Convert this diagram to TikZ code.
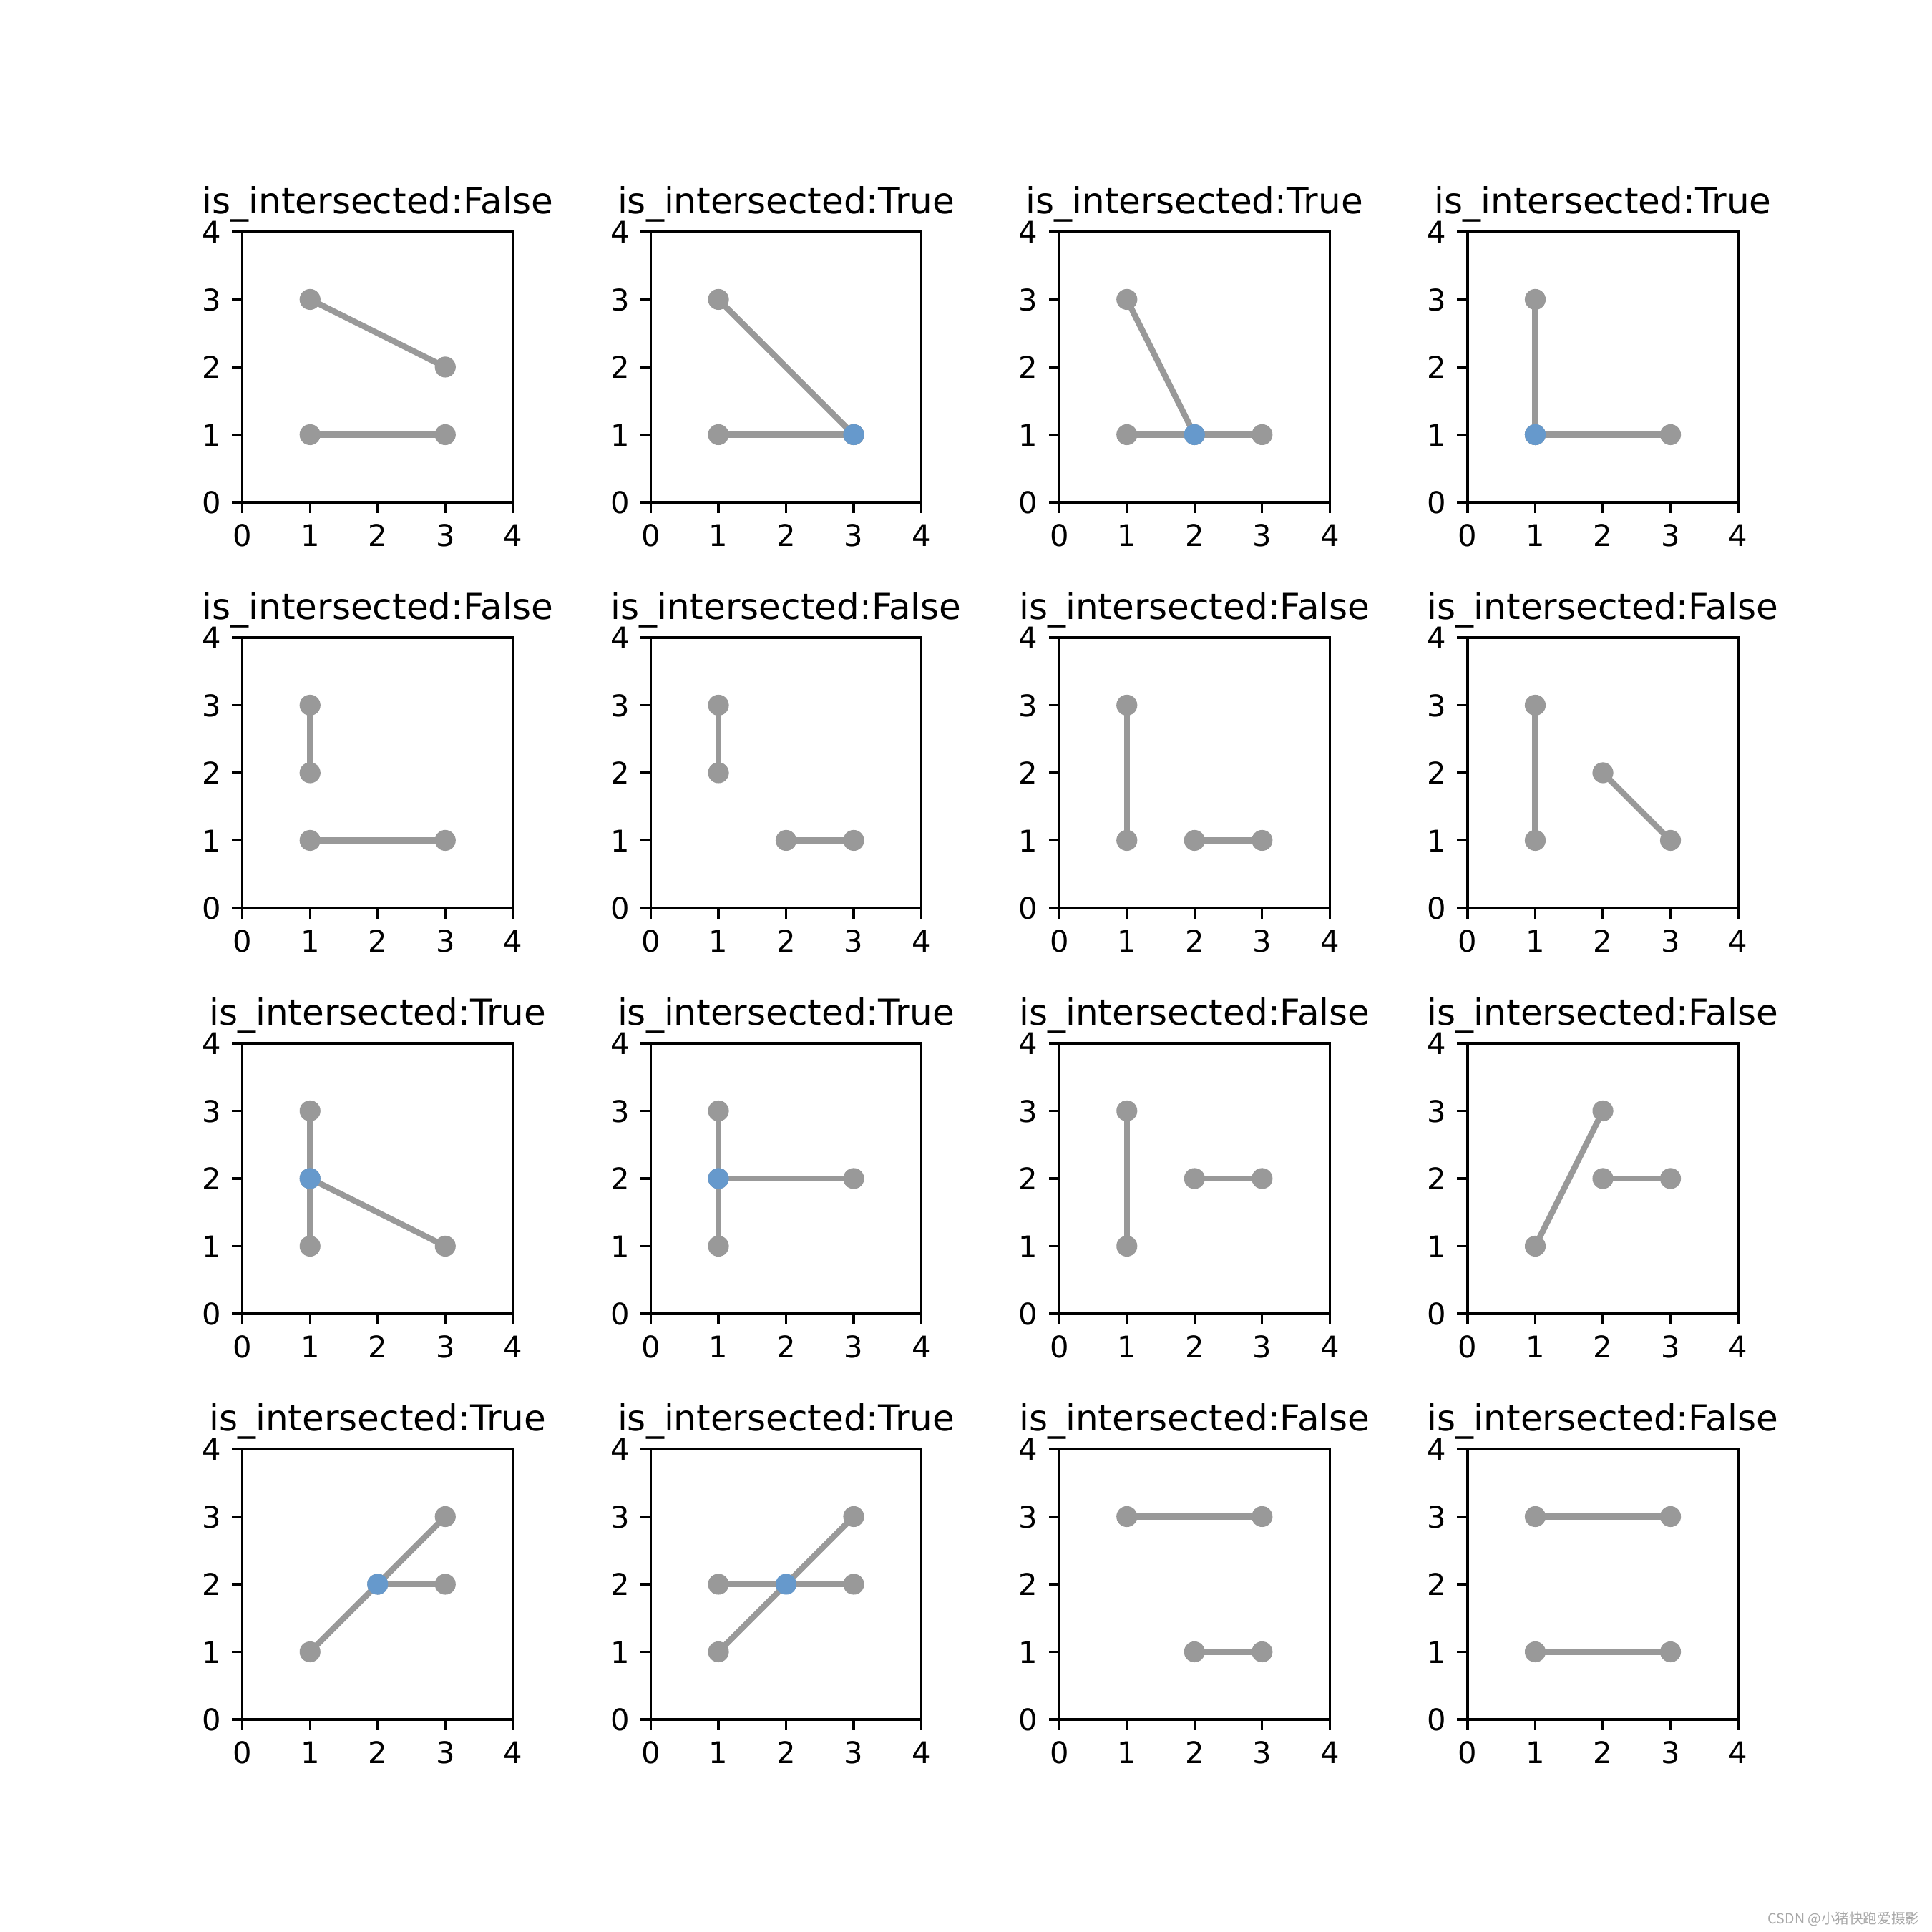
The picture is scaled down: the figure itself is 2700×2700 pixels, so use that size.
\documentclass[tikz,border=0pt]{standalone}
\usepackage{fontspec}
\setmainfont{DejaVu Sans}
\newfontfamily\cjkfont{Noto Sans CJK SC}
\definecolor{segcol}{HTML}{999999}
\definecolor{hitcol}{HTML}{6699CC}
\definecolor{wmcol}{HTML}{A8A8A8}
\tikzset{
  seg/.style={line width=2bp, draw=segcol},
  dot/.style={fill=segcol},
  hit/.style={fill=hitcol},
  spine/.style={line width=0.8bp, draw=black, line join=miter},
  tickmark/.style={line width=0.8bp, draw=black},
  xlab/.style={font=\fontsize{10bp}{12bp}\selectfont, inner sep=0pt, anchor=north, text height=0.76em, text depth=0pt},
  ylab/.style={font=\fontsize{10bp}{12bp}\selectfont, inner sep=0pt, anchor=east, text height=0.76em, text depth=0pt},
  ttl/.style={font=\fontsize{12bp}{14bp}\selectfont, inner sep=0pt, anchor=base},
  wm/.style={font=\cjkfont\fontsize{4.7bp}{5.5bp}\selectfont, text=wmcol, inner sep=0pt},
}
\newcommand\hitpt[1]{\fill[hit] (#1) circle[radius=3.5bp];}
\newcommand\panel[5]{%
  \begin{scope}[shift={(338.75+570.75*#1,1998-567*#2)}]
  \begin{scope}[x=22.68bp,y=22.68bp]
    \foreach \xa/\ya/\xb/\yb in {#4} {\draw[seg] (\xa,\ya) -- (\xb,\yb);}
    \foreach \xa/\ya/\xb/\yb in {#4} {\fill[dot] (\xa,\ya) circle[radius=3.5bp]; \fill[dot] (\xb,\yb) circle[radius=3.5bp];}
    #5
    \draw[spine] (0,0) rectangle (4,4);
    \foreach \k in {0,...,4} {
      \draw[tickmark] (\k,0) -- ++(0bp,-3.5bp);
      \node[xlab] at ([yshift=-7bp]\k,0) {\k};
      \draw[tickmark] (0,\k) -- ++(-3.5bp,0bp);
      \node[ylab] at ([xshift=-7bp]0,\k) {\k};
    }
    \node[ttl] at ([yshift=6bp]2,4) {#3};
  \end{scope}
  \end{scope}}
\begin{document}
\begin{tikzpicture}[x=0.24bp,y=0.24bp]
\fill[white] (0,0) rectangle (2700,2700);
\useasboundingbox (0,0) rectangle (2700,2700);
% row 1
\panel{0}{0}{is\_intersected:False}{1/3/3/2, 1/1/3/1}{}
\panel{1}{0}{is\_intersected:True}{1/3/3/1, 1/1/3/1}{\hitpt{3,1}}
\panel{2}{0}{is\_intersected:True}{1/3/2/1, 1/1/3/1}{\hitpt{2,1}}
\panel{3}{0}{is\_intersected:True}{1/3/1/1, 1/1/3/1}{\hitpt{1,1}}
% row 2
\panel{0}{1}{is\_intersected:False}{1/3/1/2, 1/1/3/1}{}
\panel{1}{1}{is\_intersected:False}{1/3/1/2, 2/1/3/1}{}
\panel{2}{1}{is\_intersected:False}{1/3/1/1, 2/1/3/1}{}
\panel{3}{1}{is\_intersected:False}{1/3/1/1, 2/2/3/1}{}
% row 3
\panel{0}{2}{is\_intersected:True}{1/3/1/1, 1/2/3/1}{\hitpt{1,2}}
\panel{1}{2}{is\_intersected:True}{1/3/1/1, 1/2/3/2}{\hitpt{1,2}}
\panel{2}{2}{is\_intersected:False}{1/3/1/1, 2/2/3/2}{}
\panel{3}{2}{is\_intersected:False}{1/1/2/3, 2/2/3/2}{}
% row 4
\panel{0}{3}{is\_intersected:True}{1/1/3/3, 2/2/3/2}{\hitpt{2,2}}
\panel{1}{3}{is\_intersected:True}{1/1/3/3, 1/2/3/2}{\hitpt{2,2}}
\panel{2}{3}{is\_intersected:False}{1/3/3/3, 2/1/3/1}{}
\panel{3}{3}{is\_intersected:False}{1/3/3/3, 1/1/3/1}{}
\node[wm, anchor=east] (wmark) at (2683,18) {CSDN @小猪快跑爱摄影};
\end{tikzpicture}
\end{document}
